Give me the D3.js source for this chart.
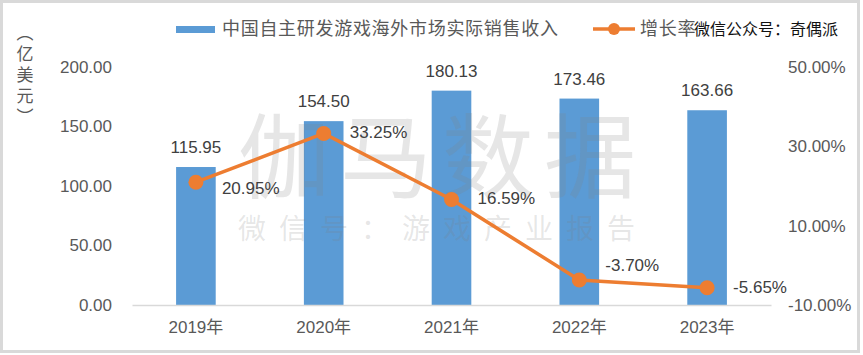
<!DOCTYPE html>
<html>
<head>
<meta charset="utf-8">
<script src="https://cdnjs.cloudflare.com/ajax/libs/d3/7.8.5/d3.min.js"></script>
<style>
    body { margin: 0; background: #fff; }
    svg { display: block; font-family: "Liberation Sans", "Noto Sans CJK SC", sans-serif; }
</style>
</head>
<body>
<svg id="chart" width="863" height="355"></svg>
<script>
var years = ['2019年', '2020年', '2021年', '2022年', '2023年'];
var revenue = [115.95, 154.50, 180.13, 173.46, 163.66];
var growth = [20.95, 33.25, 16.59, -3.70, -5.65];
var leftTicks = [0, 50, 100, 150, 200];
var rightTicks = [-10, 10, 30, 50];
var seriesNames = ['中国自主研发游戏海外市场实际销售收入', '增长率'];
var unitLabel = ['︵', '亿', '美', '元', '︶'];   // （亿美元）, set vertically
var watermark = '伽马数据';
var watermarkSub = '微信号：游戏产业报告';
var overlayNote = '微信公众号：奇偶派';

/** Class implementing the combo chart. */
class Combo {
    constructor() {
        this.svg = d3.select('#chart');
        this.x = d3.scaleBand().domain(years).range([132, 771])
            .paddingInner(0.69).paddingOuter(0.345);
        this.yL = d3.scaleLinear().domain([0, 200]).range([305, 67]);
        this.yR = d3.scaleLinear().domain([-10, 50]).range([305, 67]);
        this.blue = '#5B9BD5';
        this.orange = '#ED7D31';
    }

    drawFrame() {
        this.svg.append('rect')
            .attr('x', 1.5).attr('y', 1.5)
            .attr('width', 857).attr('height', 350)
            .attr('fill', 'none')
            .attr('stroke', '#d9d9d9')
            .attr('stroke-width', 3);
    }

    drawAxes() {
        var svg = this.svg;

        var left = svg.append('g')
            .attr('transform', 'translate(132,0)')
            .call(d3.axisLeft(this.yL).tickValues(leftTicks)
                .tickFormat(d3.format('.2f')).tickSize(0).tickPadding(20));
        left.select('.domain').remove();

        var right = svg.append('g')
            .attr('transform', 'translate(771,0)')
            .call(d3.axisRight(this.yR).tickValues(rightTicks)
                .tickFormat(function (d) { return d.toFixed(2) + '%'; })
                .tickSize(0).tickPadding(17));
        right.select('.domain').remove();

        var bottom = svg.append('g')
            .attr('transform', 'translate(0,305)')
            .call(d3.axisBottom(this.x).tickSize(0).tickSizeOuter(0).tickPadding(16));
        bottom.select('.domain').attr('stroke', '#d9d9d9').attr('stroke-width', 1.5);

        svg.selectAll('.tick text')
            .attr('font-size', 17)
            .attr('fill', '#595959')
            .attr('font-family', '"Liberation Sans", "Noto Sans CJK SC", sans-serif');

        // unit title, one glyph per row
        svg.append('g').selectAll('text')
            .data(unitLabel)
            .enter()
            .append('text')
            .attr('x', 25)
            .attr('y', function (d, i) { return 33 + i * 21; })
            .attr('dy', '0.35em')
            .attr('text-anchor', 'middle')
            .attr('font-family', '"Noto Sans CJK SC"')
            .attr('font-size', 17)
            .attr('fill', '#595959')
            .text(function (d) { return d; });
    }

    drawBars() {
        var x = this.x, yL = this.yL;
        this.svg.append('g').selectAll('rect')
            .data(revenue)
            .enter()
            .append('rect')
            .attr('x', function (d, i) { return x(years[i]); })
            .attr('y', function (d) { return yL(d); })
            .attr('width', x.bandwidth())
            .attr('height', function (d) { return yL(0) - yL(d); })
            .attr('fill', this.blue);
    }

    drawWatermark() {
        this.svg.append('text')
            .attr('x', 238).attr('y', 191)
            .attr('font-family', '"Noto Sans CJK SC"')
            .attr('font-size', 92)
            .attr('letter-spacing', 10)
            .attr('fill', '#808080')
            .attr('fill-opacity', 0.2)
            .text(watermark);

        this.svg.append('text')
            .attr('x', 238).attr('y', 239)
            .attr('font-family', '"Noto Sans CJK SC"')
            .attr('font-size', 28)
            .attr('letter-spacing', 13)
            .attr('fill', '#808080')
            .attr('fill-opacity', 0.2)
            .text(watermarkSub);
    }

    drawLine() {
        var x = this.x, yR = this.yR;
        var cx = function (i) { return x(years[i]) + x.bandwidth() / 2; };
        var line = d3.line()
            .x(function (d, i) { return cx(i); })
            .y(function (d) { return yR(d); });

        this.svg.append('path')
            .datum(growth)
            .attr('d', line)
            .attr('fill', 'none')
            .attr('stroke', this.orange)
            .attr('stroke-width', 3.5);

        this.svg.append('g').selectAll('circle')
            .data(growth)
            .enter()
            .append('circle')
            .attr('cx', function (d, i) { return cx(i); })
            .attr('cy', function (d) { return yR(d); })
            .attr('r', 7.5)
            .attr('fill', this.orange);

        // label nudges, as placed in the original
        var dy = [6, -1, -1, -15, -1];
        this.svg.append('g').selectAll('text')
            .data(growth)
            .enter()
            .append('text')
            .attr('x', function (d, i) { return cx(i) + 26; })
            .attr('y', function (d, i) { return yR(d) + dy[i]; })
            .attr('dy', '0.35em')
            .attr('font-size', 17)
            .attr('fill', '#404040')
            .text(function (d) { return d.toFixed(2) + '%'; });
    }

    drawBarLabels() {
        var x = this.x, yL = this.yL;
        this.svg.append('g').selectAll('text')
            .data(revenue)
            .enter()
            .append('text')
            .attr('x', function (d, i) { return x(years[i]) + x.bandwidth() / 2; })
            .attr('y', function (d) { return yL(d) - 14; })
            .attr('text-anchor', 'middle')
            .attr('font-size', 17)
            .attr('fill', '#404040')
            .text(function (d) { return d.toFixed(2); });
    }

    drawLegend() {
        var g = this.svg.append('g');
        g.append('rect')
            .attr('x', 176).attr('y', 26)
            .attr('width', 39).attr('height', 7)
            .attr('fill', this.blue);
        g.append('text')
            .attr('x', 222).attr('y', 29)
            .attr('dy', '0.35em')
            .attr('font-family', '"Noto Sans CJK SC"')
            .attr('font-size', 18)
            .attr('letter-spacing', 0.7)
            .attr('fill', '#595959')
            .text(seriesNames[0]);

        g.append('line')
            .attr('x1', 593).attr('x2', 635)
            .attr('y1', 29).attr('y2', 29)
            .attr('stroke', this.orange)
            .attr('stroke-width', 3.5);
        g.append('circle')
            .attr('cx', 614).attr('cy', 29).attr('r', 6)
            .attr('fill', this.orange);
        g.append('text')
            .attr('x', 640).attr('y', 29)
            .attr('dy', '0.35em')
            .attr('font-family', '"Noto Sans CJK SC"')
            .attr('font-size', 18)
            .attr('letter-spacing', 0.7)
            .attr('fill', '#595959')
            .text(seriesNames[1]);

        g.append('text')
            .attr('x', 694).attr('y', 29)
            .attr('dy', '0.35em')
            .attr('font-family', '"Noto Sans CJK SC"')
            .attr('font-size', 16)
            .attr('fill', '#111')
            .text(overlayNote);
    }

    draw() {
        this.drawFrame();
        this.drawBars();
        this.drawWatermark();
        this.drawAxes();
        this.drawLine();
        this.drawBarLabels();
        this.drawLegend();
    }
}

new Combo().draw();
</script>
</body>
</html>
